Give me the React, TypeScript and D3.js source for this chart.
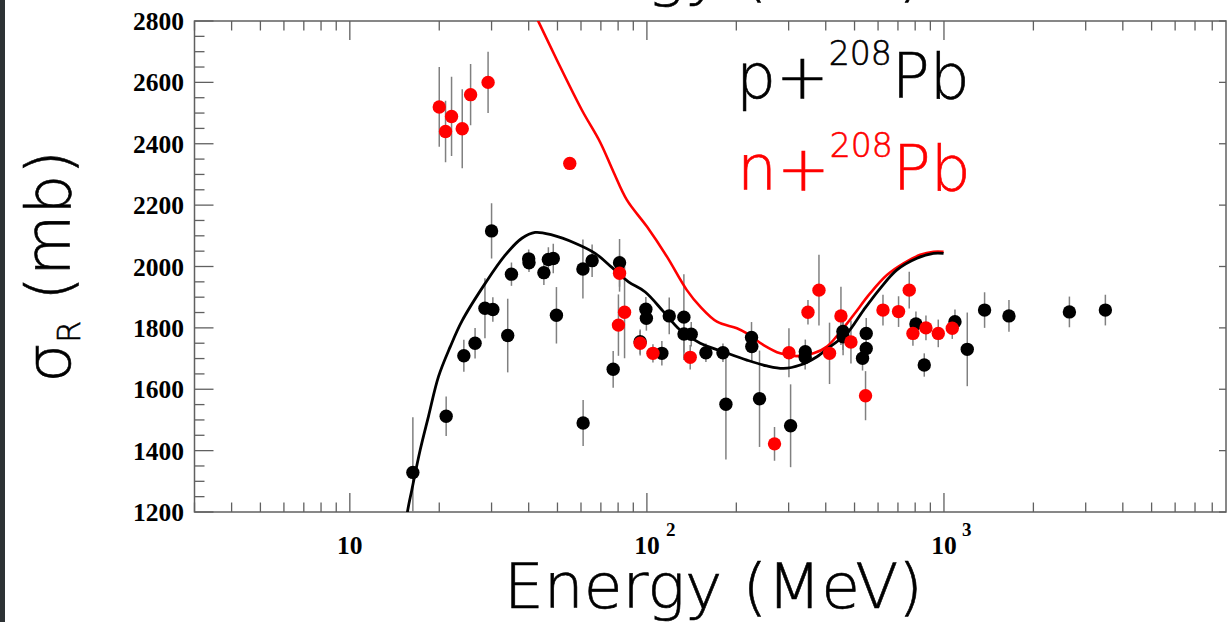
import React from "react";
import * as d3 from "d3";

// n + 208Pb data: [energy MeV, sigma mb, error mb]
const nE = [20.0, 21.0, 22.0, 23.9, 25.5, 29.2, 55.0, 80.9, 84.1, 80.2, 94.9, 104.8, 139.9, 268.9, 300.7, 348.5, 379.5, 411.9, 450, 486.3, 544.5, 623.3, 703.3, 764, 786.2, 869.7, 956.8, 1066.5];
const nS = [2520, 2440, 2489, 2449, 2560, 2600, 2336, 1978, 1851, 1809, 1750, 1717, 1704, 1422, 1719, 1851, 1923, 1717, 1839, 1754, 1579, 1858, 1853, 1923, 1782, 1800, 1782, 1799];
const nErr = [130, 100, 129, 129, 100, 100, 0, 60, 150, 100, 40, 30, 40, 55, 80, 40, 115, 100, 95, 70, 80, 50, 50, 60, 40, 40, 45, 35];

// p + 208Pb data
const pE = [16.3, 21.1, 24.2, 26.4, 28.5, 30.3, 30.0, 34.0, 35.0, 40.0, 40.1, 45.0, 46.6, 48.4, 49.6, 60.9, 61.0, 65.4, 77.0, 80.9, 99.2, 99.6, 94.9, 112.3, 118.9, 133.2, 133.3, 141.0, 158.0, 180.3, 184.5, 225, 225.5, 239.4, 304.6, 341.4, 341.0, 457, 457.5, 547.4, 547.4, 532, 804.7, 858.4, 1089, 1198, 1370, 1655, 2644, 3494];
const pS = [1329, 1512, 1709, 1750, 1864, 1860, 2116, 1775, 1975, 2025, 2012, 1980, 2023, 2026, 1841, 1992, 1490, 2019, 1665, 2012, 1861, 1831, 1755, 1717, 1839, 1835, 1780, 1779, 1719, 1719, 1551, 1769, 1739, 1569, 1481, 1722, 1704, 1788, 1771, 1782, 1733, 1701, 1813, 1679, 1820, 1730, 1858, 1839, 1852, 1858];
const pErr = [180, 64, 52, 50, 98, 40, 90, 120, 38, 30, 30, 40, 40, 48, 92, 96, 75, 53, 60, 78, 40, 40, 40, 40, 60, 140, 60, 40, 30, 30, 180, 50, 50, 157, 135, 40, 40, 60, 60, 50, 40, 40, 40, 38, 40, 120, 58, 52, 50, 50];

// theory curves
const thPE = [15.4, 15.63, 16.17, 17.25, 18.39, 19.88, 21.77, 23.84, 28.55, 33.34, 37.95, 42.06, 47.87, 57.36, 66.96, 76.25, 86.7, 98.7, 113.7, 129.4, 151.2, 181.1, 217.1, 253.5, 288.4, 328.3, 373.6, 414.1, 471.5, 536.3, 610.3, 694.6, 811.3, 922.6, 997];
const thPS = [1140, 1200, 1272, 1402, 1511, 1641, 1738, 1822, 1945, 2037, 2092, 2111, 2103, 2076, 2043, 1997, 1950, 1917, 1853, 1793, 1750, 1722, 1695, 1676, 1668, 1679, 1706, 1739, 1782, 1858, 1929, 1989, 2027, 2043, 2043];
const thNE = [38.3, 43.15, 49.77, 60.4, 69.6, 77.2, 85.6, 100, 116.8, 136.3, 151.2, 172.1, 200.9, 217.1, 247, 281.1, 320, 363.9, 403.7, 447.6, 496.3, 564.8, 642.8, 731.1, 832.2, 922.6, 997];
const thNS = [2900, 2798, 2673, 2510, 2405, 2308, 2217, 2130, 2032, 1923, 1869, 1820, 1799, 1782, 1744, 1717, 1708, 1717, 1739, 1787, 1842, 1913, 1972, 2010, 2038, 2048, 2048];

const yTicks = [1200, 1400, 1600, 1800, 2000, 2200, 2400, 2600, 2800];

const W = 1227, H = 622;
const L = 194.5, R = 1226, T = 21, B = 512;

export default function App() {
  const x = d3.scaleLog().domain([3, 8900]).range([L, R]);
  const y = d3.scaleLinear().domain([1200, 2800]).range([B, T]);

  const minorX: number[] = [];
  [1, 10, 100, 1000].forEach((dec) => {
    for (let k = 2; k <= 9; k++) {
      const v = k * dec;
      if (v >= 3 && v <= 8900) minorX.push(v);
    }
  });
  const majorX = [10, 100, 1000];
  const minorY: number[] = [];
  for (let v = 1200; v <= 2800; v += 50) if (v % 200 !== 0) minorY.push(v);

  const line = d3
    .line<[number, number]>()
    .x((d) => x(d[0]))
    .y((d) => y(d[1]))
    .curve(d3.curveCatmullRom.alpha(0.5));

  const pCurve = line(thPE.map((e, i) => [e, thPS[i]] as [number, number])) || "";
  const nCurve = line(thNE.map((e, i) => [e, thNS[i]] as [number, number])) || "";

  const tickColor = "#606060";
  const sansLight = "'DejaVu Sans', 'Noto Sans', sans-serif";
  const serifB = "'Liberation Serif', 'DejaVu Serif', serif";

  return (
    <svg
      width={W}
      height={H}
      style={{ position: "absolute", left: 0, top: 0, background: "#fff" }}
    >
      <defs>
        <clipPath id="plot">
          <rect x={L} y={T} width={R - L} height={B - T} />
        </clipPath>
      </defs>
      <rect x={0} y={0} width={W} height={H} fill="#fff" />
      <rect x={0} y={0} width={5} height={H} fill="#2d3235" />

      {/* cut-off title at top */}
      <text x={504} y={-6} fontFamily={sansLight} fontWeight={200} fontSize={63} fill="#000" stroke="#000" strokeWidth={0.6}>
        Energy (MeV)
      </text>

      {/* frame */}
      <rect x={L} y={T} width={R - L} height={B - T} fill="none" stroke={tickColor} strokeWidth={1.5} />

      {/* x ticks */}
      {minorX.map((v) => (
        <g key={"mx" + v}>
          <line x1={x(v)} x2={x(v)} y1={B} y2={B - 9.5} stroke={tickColor} strokeWidth={1.3} />
          <line x1={x(v)} x2={x(v)} y1={T} y2={T + 9.5} stroke={tickColor} strokeWidth={1.3} />
        </g>
      ))}
      {majorX.map((v) => (
        <g key={"Mx" + v}>
          <line x1={x(v)} x2={x(v)} y1={B} y2={B - 19} stroke={tickColor} strokeWidth={1.3} />
          <line x1={x(v)} x2={x(v)} y1={T} y2={T + 19} stroke={tickColor} strokeWidth={1.3} />
        </g>
      ))}
      {/* y ticks */}
      {minorY.map((v) => (
        <line key={"my" + v} x1={L} x2={L + 10} y1={y(v)} y2={y(v)} stroke={tickColor} strokeWidth={1.3} />
      ))}
      {yTicks.map((v) => (
        <g key={"My" + v}>
          <line x1={L} x2={L + 19} y1={y(v)} y2={y(v)} stroke={tickColor} strokeWidth={1.3} />
          <line x1={R - 7} x2={R} y1={y(v)} y2={y(v)} stroke={tickColor} strokeWidth={1.3} />
          <text x={184} y={y(v) + 9} textAnchor="end" fontFamily={serifB} fontWeight="bold" fontSize={25.5} fill="#000">
            {v}
          </text>
        </g>
      ))}
      {/* x labels */}
      <text x={x(10)} y={554} textAnchor="middle" fontFamily={serifB} fontWeight="bold" fontSize={25.5}>10</text>
      <text x={x(100)} y={554} textAnchor="middle" fontFamily={serifB} fontWeight="bold" fontSize={25.5}>10</text>
      <text x={x(100) + 19} y={536} fontFamily={serifB} fontWeight="bold" fontSize={19}>2</text>
      <text x={x(1000)} y={554} textAnchor="middle" fontFamily={serifB} fontWeight="bold" fontSize={25.5}>10</text>
      <text x={x(1000) + 18} y={536} fontFamily={serifB} fontWeight="bold" fontSize={19}>3</text>

      {/* axis titles */}
      <text x={504} y={608} fontFamily={sansLight} fontWeight={200} fontSize={63} fill="#000" stroke="#000" strokeWidth={0.6}>
        Energy (MeV)
      </text>
      <text
        transform={`translate(70, ${(T + B) / 2}) rotate(-90)`}
        textAnchor="middle"
        fontFamily={sansLight}
        fontWeight={200}
        fontSize={63}
        fill="#000"
        stroke="#000"
        strokeWidth={0.6}
      >
        σ<tspan fontSize={32} dy={10}>R</tspan>
        <tspan dy={-10}> (mb)</tspan>
      </text>

      {/* legend */}
      <text x={736} y={98} fontFamily={sansLight} fontWeight={200} fontSize={63} fill="#000" stroke="#000" strokeWidth={0.6}>
        p+<tspan fontSize={33} dy={-33}>208</tspan>
        <tspan dy={33}>Pb</tspan>
      </text>
      <text x={737} y={190} fontFamily={sansLight} fontWeight={200} fontSize={63} fill="#ff0000" stroke="#ff0000" strokeWidth={0.6}>
        n+<tspan fontSize={33} dy={-33}>208</tspan>
        <tspan dy={33}>Pb</tspan>
      </text>

      <g clipPath="url(#plot)">
        {/* error bars */}
        {pE.map((e, i) =>
          pErr[i] > 0 ? (
            <line key={"pe" + i} x1={x(e)} x2={x(e)} y1={y(pS[i] - pErr[i])} y2={y(pS[i] + pErr[i])} stroke="#808080" strokeWidth={1.5} />
          ) : null
        )}
        {nE.map((e, i) =>
          nErr[i] > 0 ? (
            <line key={"ne" + i} x1={x(e)} x2={x(e)} y1={y(nS[i] - nErr[i])} y2={y(nS[i] + nErr[i])} stroke="#808080" strokeWidth={1.5} />
          ) : null
        )}
        {/* theory curves */}
        <path d={nCurve} fill="none" stroke="#ff0000" strokeWidth={2.6} />
        <path d={pCurve} fill="none" stroke="#000" strokeWidth={2.8} />
        {/* points */}
        {pE.map((e, i) => (
          <circle key={"pp" + i} cx={x(e)} cy={y(pS[i])} r={6.7} fill="#000" />
        ))}
        {nE.map((e, i) => (
          <circle key={"np" + i} cx={x(e)} cy={y(nS[i])} r={6.7} fill="#ff0000" />
        ))}
      </g>
    </svg>
  );
}
